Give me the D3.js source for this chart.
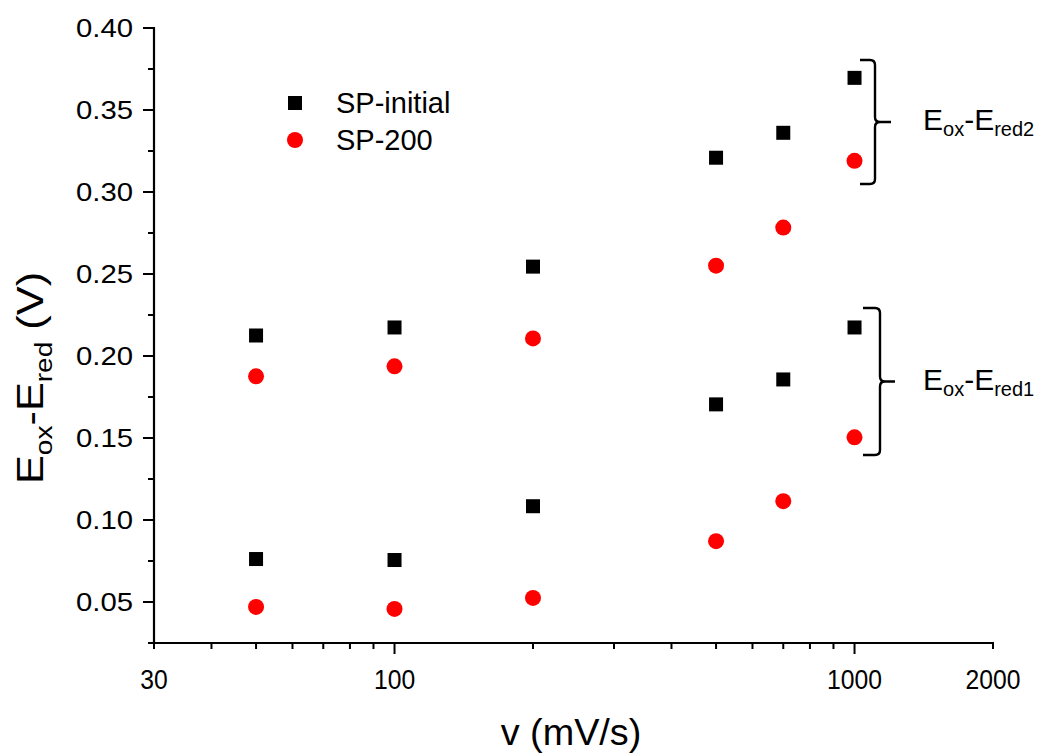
<!DOCTYPE html>
<html>
<head>
<meta charset="utf-8">
<script src="https://cdn.jsdelivr.net/npm/d3@7"></script>
<style>
  html, body { margin: 0; padding: 0; background: #fff; }
  svg { display: block; font-family: "Liberation Sans", Arial, sans-serif; }
</style>
</head>
<body>
<svg id="chart" width="1038" height="753"></svg>
<script>
// ---- data ----
const scanRates = [50, 100, 200, 500, 700, 1000];
const initialPeak2 = [0.2125, 0.2174, 0.2545, 0.3209, 0.3361, 0.3696];
const sp200Peak2   = [0.1876, 0.1937, 0.2107, 0.2551, 0.2783, 0.3190];
const initialPeak1 = [0.0762, 0.0756, 0.1084, 0.1705, 0.1857, 0.2174];
const sp200Peak1   = [0.0470, 0.0458, 0.0525, 0.0871, 0.1115, 0.1504];
const xTickLabels = [30, 100, 1000, 2000];
const xMinorTicks = [30, 40, 50, 60, 70, 80, 90, 200, 300, 400, 500, 600, 700, 800, 900, 2000];
const xMajorTicks = [100, 1000];
const yTickLabels = [0.05, 0.10, 0.15, 0.20, 0.25, 0.30, 0.35, 0.40];
const yMinorTicks = [0.025, 0.075, 0.125, 0.175, 0.225, 0.275, 0.325, 0.375];
const seriesNames = ["SP-initial", "SP-200"];
// bracket ranges (value space) for the two peak groups
const bracket2 = [0.3049, 0.3805];
const bracket1 = [0.1396, 0.2293];

// ---- layout ----
const svg = d3.select("#chart");
const pL = 154, pR = 993, pT = 28, pB = 643;
const x = d3.scaleLog().domain([30, 2000]).range([pL, pR]);
const y = d3.scaleLinear().domain([0.025, 0.40]).range([pB, pT]);

// ---- axes ----
const axisW = 2.2;
// x axis
const gx = svg.append("g");
gx.append("line").attr("x1", pL - 1).attr("x2", pR + 1).attr("y1", pB).attr("y2", pB)
  .attr("stroke", "#000").attr("stroke-width", axisW);
gx.selectAll("line.minor").data(xMinorTicks).enter().append("line")
  .attr("x1", d => x(d)).attr("x2", d => x(d)).attr("y1", pB).attr("y2", pB + 6)
  .attr("stroke", "#000").attr("stroke-width", 2);
gx.selectAll("line.major").data(xMajorTicks).enter().append("line")
  .attr("x1", d => x(d)).attr("x2", d => x(d)).attr("y1", pB).attr("y2", pB + 11)
  .attr("stroke", "#000").attr("stroke-width", 2);
gx.selectAll("text").data(xTickLabels).enter().append("text")
  .attr("transform", d => `translate(${x(d)},689) scale(0.95,1.08)`)
  .attr("text-anchor", "middle")
  .attr("font-size", 26).text(d => d);

// y axis
const gy = svg.append("g");
gy.append("line").attr("x1", pL).attr("x2", pL).attr("y1", pT - 1).attr("y2", pB + 1)
  .attr("stroke", "#000").attr("stroke-width", axisW);
gy.selectAll("line.minor").data(yMinorTicks).enter().append("line")
  .attr("x1", pL - 6).attr("x2", pL).attr("y1", d => y(d)).attr("y2", d => y(d))
  .attr("stroke", "#000").attr("stroke-width", 2);
gy.selectAll("line.major").data(yTickLabels).enter().append("line")
  .attr("x1", pL - 11).attr("x2", pL).attr("y1", d => y(d)).attr("y2", d => y(d))
  .attr("stroke", "#000").attr("stroke-width", 2);
gy.selectAll("text").data(yTickLabels).enter().append("text")
  .attr("transform", d => `translate(133,${y(d) + 9}) scale(1.15,1)`)
  .attr("text-anchor", "end")
  .attr("font-size", 25.5).text(d => d3.format(".2f")(d));

// axis titles
svg.append("text").attr("transform", "translate(571,745) scale(1.05,1)").attr("text-anchor", "middle")
  .attr("font-size", 36).text("v (mV/s)");

const yt = svg.append("text").attr("text-anchor", "middle").attr("font-size", 37)
  .attr("transform", "translate(43,378) rotate(-90) scale(1.17,1)");
yt.append("tspan").text("E");
yt.append("tspan").attr("font-size", 24).attr("dy", 9).text("ox");
yt.append("tspan").attr("dy", -9).text("-E");
yt.append("tspan").attr("font-size", 24).attr("dy", 9).text("red");
yt.append("tspan").attr("dy", -9).text(" (V)");

// ---- markers ----
const sq = 14, rad = 8;
function squares(vals) {
  svg.append("g").selectAll("rect").data(scanRates.map((v, i) => [v, vals[i]])).enter().append("rect")
    .attr("x", d => x(d[0]) - sq / 2).attr("y", d => y(d[1]) - sq / 2)
    .attr("width", sq).attr("height", sq).attr("fill", "#000");
}
function circles(vals) {
  svg.append("g").selectAll("circle").data(scanRates.map((v, i) => [v, vals[i]])).enter().append("circle")
    .attr("cx", d => x(d[0])).attr("cy", d => y(d[1])).attr("r", rad).attr("fill", "#ff0000");
}
squares(initialPeak2);
squares(initialPeak1);
circles(sp200Peak2);
circles(sp200Peak1);

// ---- legend ----
const lg = svg.append("g");
lg.append("rect").attr("x", 295 - sq / 2).attr("y", 103 - sq / 2).attr("width", sq).attr("height", sq).attr("fill", "#000");
lg.append("circle").attr("cx", 295).attr("cy", 140).attr("r", rad).attr("fill", "#ff0000");
lg.append("text").attr("x", 336).attr("y", 113).attr("font-size", 29).text(seriesNames[0]);
lg.append("text").attr("x", 336).attr("y", 150).attr("font-size", 29).text(seriesNames[1]);

// ---- brackets ----
function bracket(range, xv, armLen, tipLen, label) {
  const y0 = y(range[1]), y1 = y(range[0]), ym = (y0 + y1) / 2;
  const r = 5;
  const p = d3.path();
  p.moveTo(xv - armLen, y0);
  p.lineTo(xv - r, y0);
  p.quadraticCurveTo(xv, y0, xv, y0 + r);
  p.lineTo(xv, ym - r);
  p.quadraticCurveTo(xv, ym, xv + r, ym);
  p.lineTo(xv + tipLen, ym);
  p.moveTo(xv + r, ym);
  p.quadraticCurveTo(xv, ym, xv, ym + r);
  p.lineTo(xv, y1 - r);
  p.quadraticCurveTo(xv, y1, xv - r, y1);
  p.lineTo(xv - armLen, y1);
  svg.append("path").attr("d", p.toString()).attr("fill", "none")
    .attr("stroke", "#000").attr("stroke-width", 2.4);
  const t = svg.append("text").attr("x", 923).attr("y", ym + 8).attr("font-size", 30);
  t.append("tspan").text("E");
  t.append("tspan").attr("font-size", 20).attr("dy", 6).text("ox");
  t.append("tspan").attr("dy", -6).text("-E");
  t.append("tspan").attr("font-size", 20).attr("dy", 6).text(label);
}
bracket(bracket2, 875, 15, 16, "red2");
bracket(bracket1, 880, 17, 15, "red1");
</script>
</body>
</html>
